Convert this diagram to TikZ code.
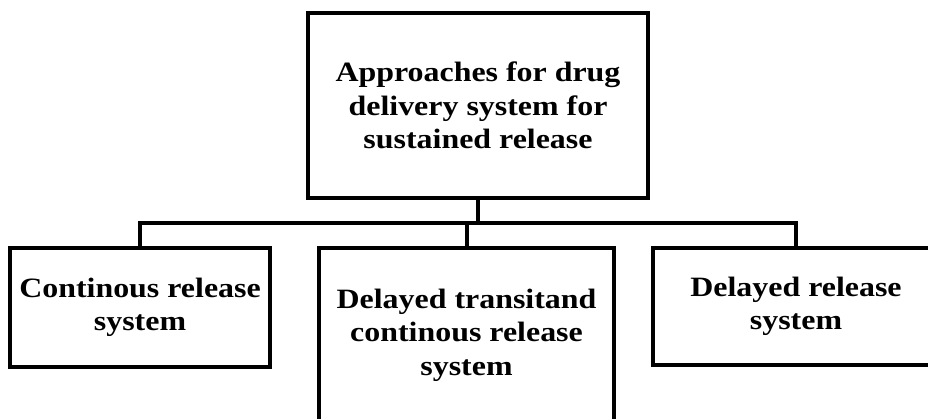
\documentclass[tikz,border=0pt]{standalone}
\usepackage{fontspec}
\setmainfont[FakeStretch=1.14]{Liberation Serif}
\usepackage{tikz}

\tikzset{
  blk/.style={draw, line width=4pt, inner sep=0pt, align=center,
    font=\fontsize{28}{33.5}\selectfont\bfseries},
  link/.style={line width=4pt}
}

\begin{document}
\begin{tikzpicture}[x=1pt,y=-1pt]
\clip (0,0) rectangle (928,418);
\useasboundingbox (0,0) rectangle (928,418);

\node[blk, minimum width=340pt, minimum height=185pt] (top) at (478,105.5)
  {Approaches for drug\\delivery system for\\sustained release};

\node[blk, minimum width=260pt, minimum height=119pt] (cont) at (140,307.5)
  {Continous release\\system};
\node[blk, minimum width=295pt, minimum height=174pt] (trans) at (466.5,335)
  {Delayed transitand\\continous release\\system};
\node[blk, minimum width=286pt, minimum height=117pt] (del) at (796,306.5)
  {Delayed release\\system};

\coordinate (hub) at (478,223);

\draw[link] (top.south) -- (hub);
\draw[link] (cont.north) |- (hub) -| (del.north);
\draw[link] (trans.north) -- (trans.north |- hub);
\end{tikzpicture}
\end{document}
